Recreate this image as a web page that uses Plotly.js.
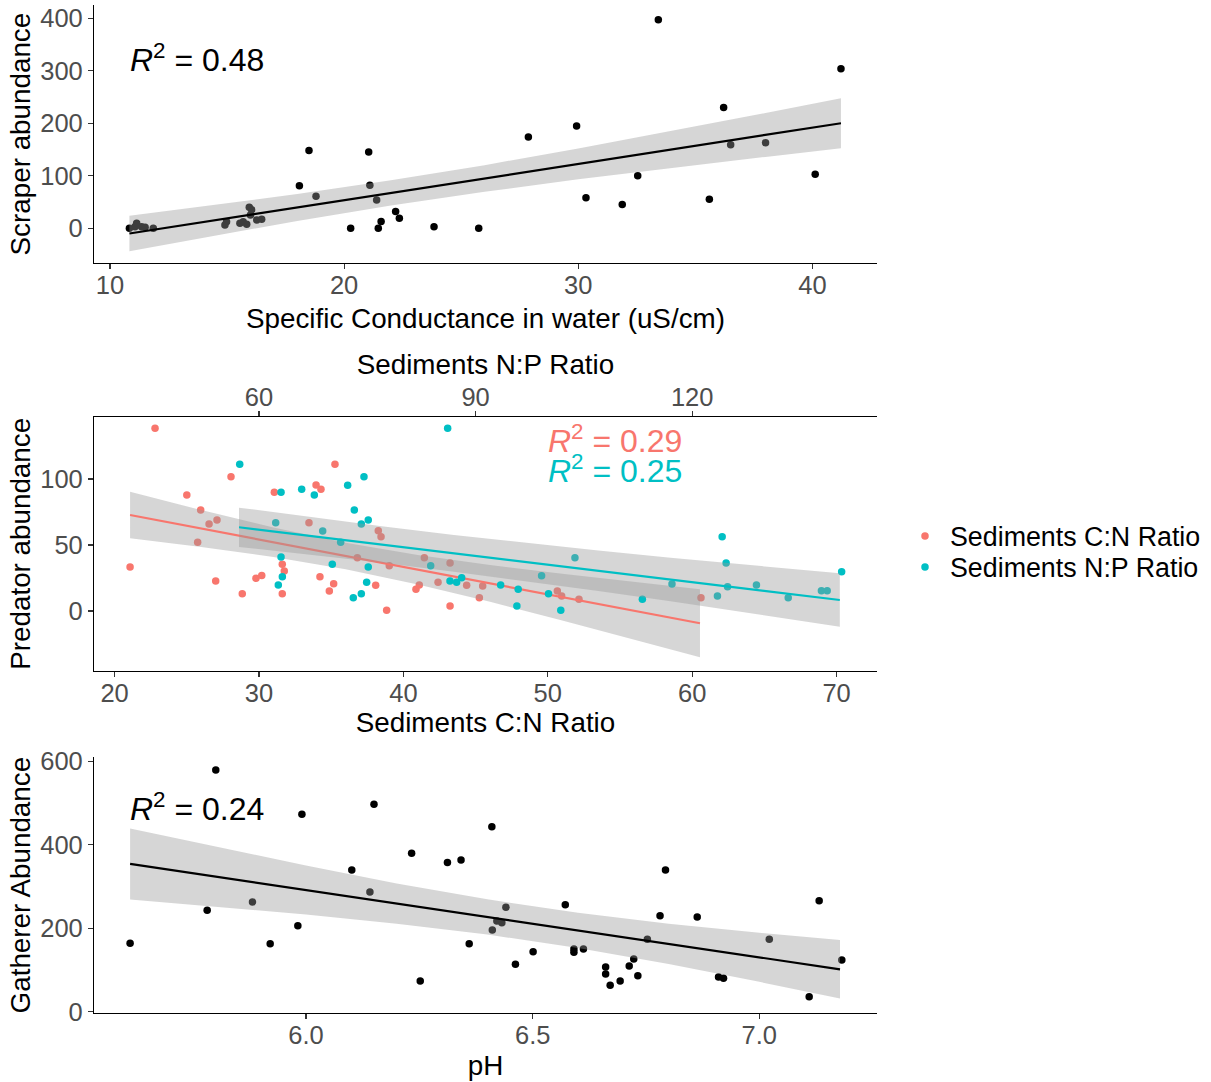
<!DOCTYPE html>
<html>
<head>
<meta charset="utf-8">
<script src="https://cdn.plot.ly/plotly-3.0.1.min.js"></script>
<style>html,body{margin:0;padding:0;background:#fff;}#chart{width:1211px;height:1082px;}</style>
</head>
<body>
<div id="chart"></div>
<script>
// ---------- Panel 1: Scraper abundance vs Specific conductance ----------
var condX = [10.83,11.07,11.14,11.35,11.5,11.85,14.91,14.98,15.55,15.69,15.84,15.95,16.05,16.0,16.27,16.48,18.09,18.5,18.8,20.28,21.05,21.1,21.39,21.46,21.58,22.2,22.36,23.84,25.75,27.87,29.93,30.33,31.88,32.54,33.42,35.6,36.21,36.51,38.0,40.12,41.22];
var scraperY = [0,3,9.5,3,2,0,6,12.6,9.5,12.6,7.6,40,35,25.3,15.8,17,81,148,61,0,145,82,54,0,13,32,19,3,0,174,195,58,45,100,397,55,230,159,163,103,304];
var fit1X  = [10.83,14,18,22,26,30,34,38,41.22];
var fit1Y  = [-10,11.9,39.5,67.2,94.8,122.5,150.1,177.7,200];
var fit1Lo = [-44,-18.2,14,43.2,69.4,93.1,115,135.9,152.4];
var fit1Hi = [24,42,65,91.2,120.2,151.9,185.2,219.5,247.6];

// ---------- Panel 2: Predator abundance vs sediment ratios ----------
var cnX = [21.07,22.8,25.0,25.96,26.54,27.09,25.75,27.0,28.06,28.84,29.79,30.19,31.06,31.61,31.75,31.61,33.46,33.95,34.29,34.22,34.87,35.17,35.26,36.81,38.08,38.26,38.45,38.84,39.02,40.87,41.1,41.45,42.4,43.23,43.23,44.38,45.26,45.49,50.66,50.96,52.16,60.61];
var cnY = [33.3,138.4,87.9,76.5,65.9,68.9,52,22.7,101.7,13.1,24.7,26.8,89.9,35.4,30.3,13.1,66.9,95.5,92.2,26,15.2,20.7,111.1,40.4,19.5,60.8,56.3,0.5,34.3,16.4,19.7,40.4,21.7,36.4,3.8,19.5,10.1,18.9,15.2,11.4,8.8,10.1];
var npX = [57.33,63.05,62.31,65.91,67.66,68.82,71.31,72.28,73.2,74.17,74.54,75.13,63.05,70.15,63.23,62.67,75.13,74.91,73.06,74.17,86.13,83.78,86.45,87.37,88.07,93.47,95.9,95.72,99.14,100.1,101.8,103.76,113.1,117.2,123.5,124.15,124.7,124.9,128.9,133.3,137.9,138.7,140.7];
var npY = [111.1,89.9,66.9,92.2,87.9,60.6,52,95.2,76.5,65.9,101.7,68.9,40.9,35.4,26,19.7,33.3,21.7,10.1,13.1,138.4,34.3,22.7,21.7,25.2,19.7,16.4,3.8,26.7,13.1,0.5,40.4,8.8,20.5,11.4,56.3,36.4,18.4,19.7,10.1,15.4,15.4,29.8];
var fitCnX  = [21.07,26,31,36,41,46,51,56,60.54];
var fitCnY  = [72.7,62.46,52.07,41.68,31.29,20.9,10.5,0.13,-9.3];
var fitCnLo = [55.1,48.49,40.91,31.63,20.13,6.93,-7.18,-21.72,-35.1];
var fitCnHi = [90.3,76.43,63.23,51.73,42.45,34.87,28.18,21.98,16.5];
var fitNpX  = [57.23,67,77,87,97,107,117,127,140.45];
var fitNpY  = [63.4,56.93,50.31,43.69,37.07,30.45,23.83,17.21,8.3];
var fitNpLo = [48.51,42.75,36.47,29.76,22.64,15.15,7.33,-0.73,-11.89];
var fitNpHi = [78.29,71.11,64.15,57.62,51.5,45.75,40.33,35.15,28.49];
var seriesNames = ["Sediments C:N Ratio","Sediments N:P Ratio"];

// ---------- Panel 3: Gatherer abundance vs pH ----------
var phX = [5.612,5.782,5.801,5.882,5.921,5.982,5.991,6.101,6.141,6.15,6.233,6.252,6.312,6.342,6.36,6.41,6.411,6.421,6.432,6.441,6.462,6.501,6.572,6.591,6.591,6.612,6.661,6.661,6.671,6.693,6.713,6.723,6.732,6.753,6.781,6.793,6.863,6.91,6.921,7.022,7.11,7.132,7.182];
var gathY = [163.8,242.9,579,262.8,162.9,206,472.8,339.4,286.7,496.7,379.4,73.5,357,363.4,162.9,443,195.7,217,213,250,113.5,143.7,256.3,150.2,142.3,150.2,107,90.3,63.2,73.5,109.5,126.2,86.2,173.4,230,339.4,226.8,83.1,80,173.4,36,265.9,123.8];
var fitPhX  = [5.612,5.8,6.0,6.2,6.4,6.6,6.8,7.0,7.178];
var fitPhY  = [353.8,323.5,291.3,259.1,226.9,194.6,162.4,130.2,101.5];
var fitPhLo = [268.8,252.0,232.6,210.9,184.8,152.5,114.2,71.5,31.5];
var fitPhHi = [438.8,395.0,350.0,307.3,269.0,236.7,210.6,188.9,171.5];

// tick values
var ticks1X = [10,20,30,40], ticks1Y = [0,100,200,300,400];
var ticks2X = [20,30,40,50,60,70], ticks2Xtop = [60,90,120], ticks2Y = [0,50,100];
var ticks3X = [6.0,6.5,7.0], ticks3Y = [0,200,400,600];

var RED = "#F8766D", TEAL = "#00BFC4";
var RIBBON = "rgba(153,153,153,0.4)";
var FONT = "Liberation Sans, Arial, Helvetica, sans-serif";

function ribbon(x, lo, hi, xa, ya) {
  return {x: x.concat(x.slice().reverse()), y: hi.concat(lo.slice().reverse()),
    xaxis: xa, yaxis: ya, mode: "lines", fill: "toself", fillcolor: RIBBON,
    line: {width: 0, color: "rgba(0,0,0,0)"}, hoverinfo: "skip", showlegend: false};
}
function fitLine(x, y, color, xa, ya) {
  return {x: x, y: y, xaxis: xa, yaxis: ya, mode: "lines",
    line: {color: color, width: 2.2}, hoverinfo: "skip", showlegend: false};
}
function pts(x, y, color, xa, ya, name, legend) {
  var t = {x: x, y: y, xaxis: xa, yaxis: ya, mode: "markers", name: name || "",
    marker: {color: color, size: 7.5}, showlegend: !!legend};
  if (legend) t.legend = legend;
  return t;
}

var traces = [
  pts(condX, scraperY, "#000", "x", "y"),
  ribbon(fit1X, fit1Lo, fit1Hi, "x", "y"),
  fitLine(fit1X, fit1Y, "#000", "x", "y"),

  pts(cnX, cnY, RED, "x2", "y2", seriesNames[0], "legend"),
  ribbon(fitCnX, fitCnLo, fitCnHi, "x2", "y2"),
  fitLine(fitCnX, fitCnY, RED, "x2", "y2"),
  pts(npX, npY, TEAL, "x3", "y2", seriesNames[1], "legend2"),
  ribbon(fitNpX, fitNpLo, fitNpHi, "x3", "y2"),
  fitLine(fitNpX, fitNpY, TEAL, "x3", "y2"),

  pts(phX, gathY, "#000", "x4", "y3"),
  ribbon(fitPhX, fitPhLo, fitPhHi, "x4", "y3"),
  fitLine(fitPhX, fitPhY, "#000", "x4", "y3")
];

var XDOM = [0.0776, 0.7242];
function axis(extra) {
  var a = {showline: true, linecolor: "#000", linewidth: 1.1, ticks: "outside", ticklen: 5,
    tickcolor: "#333", tickwidth: 1.1, showgrid: false, zeroline: false, automargin: false,
    tickfont: {family: FONT, size: 25.5, color: "#4D4D4D"}, fixedrange: true};
  for (var k in extra) a[k] = extra[k];
  return a;
}
function ttl(t, s) { return {text: t, font: {family: FONT, size: 27.8, color: "#000"}, standoff: s}; }

function legendAt(yPix) {
  return {x: 900 / 1211, y: 1 - yPix / 1082, xanchor: "left", yanchor: "middle", bgcolor: "rgba(0,0,0,0)",
    font: {family: FONT, size: 26.8, color: "#000"}, itemwidth: 40, borderwidth: 0};
}

var layout = {
  width: 1211, height: 1082,
  margin: {l: 0, r: 0, t: 0, b: 0},
  paper_bgcolor: "#fff", plot_bgcolor: "#fff",
  font: {family: FONT},
  xaxis: axis({domain: XDOM, anchor: "y", range: [9.317, 42.76], tickvals: ticks1X, ticklabelstandoff: -6, title: ttl("Specific Conductance in water (uS/cm)", 10)}),
  yaxis: axis({domain: [0.7567, 0.9954], anchor: "x", range: [-66.7, 425.3], tickvals: ticks1Y, title: ttl("Scraper abundance", 1)}),
  xaxis2: axis({domain: XDOM, anchor: "y2", range: [18.57, 72.8], tickvals: ticks2X, ticklabelstandoff: -6, title: ttl("Sediments C:N Ratio", 6.5)}),
  xaxis3: axis({overlaying: "x2", side: "top", anchor: "y2", range: [37.14, 145.6], tickvals: ticks2Xtop, ticklabelstandoff: -6, title: ttl("Sediments N:P Ratio", 0)}),
  yaxis2: axis({domain: [0.3799, 0.6149], anchor: "x2", range: [-45.45, 147.2], tickvals: ticks2Y, title: ttl("Predator abundance", 1)}),
  xaxis4: axis({domain: XDOM, anchor: "y3", range: [5.5323, 7.2596], tickvals: ticks3X, tickformat: ".1f", ticklabelstandoff: -6, title: ttl("pH", 7.5)}),
  yaxis3: axis({domain: [0.0635, 0.3004], anchor: "x4", range: [-3.8, 610], tickvals: ticks3Y, title: ttl("Gatherer Abundance", 1)}),
  showlegend: true,
  legend: legendAt(536),
  legend2: legendAt(567),
  annotations: [
    {xref: "x", yref: "y", x: 10.75, y: 324, xanchor: "left", yanchor: "middle", showarrow: false,
     text: "<i>R</i><sup>2</sup> = 0.48", font: {family: FONT, size: 32, color: "#000"}},
    {xref: "x2", yref: "y2", x: 49.85, y: 130, xanchor: "left", yanchor: "middle", showarrow: false,
     text: "<i>R</i><sup>2</sup> = 0.29", font: {family: FONT, size: 32, color: RED}},
    {xref: "x2", yref: "y2", x: 49.85, y: 107.2, xanchor: "left", yanchor: "middle", showarrow: false,
     text: "<i>R</i><sup>2</sup> = 0.25", font: {family: FONT, size: 32, color: TEAL}},
    {xref: "x4", yref: "y3", x: 5.608, y: 489, xanchor: "left", yanchor: "middle", showarrow: false,
     text: "<i>R</i><sup>2</sup> = 0.24", font: {family: FONT, size: 32, color: "#000"}}
  ]
};

Plotly.newPlot("chart", traces, layout, {staticPlot: true, displayModeBar: false});
</script>
</body>
</html>
